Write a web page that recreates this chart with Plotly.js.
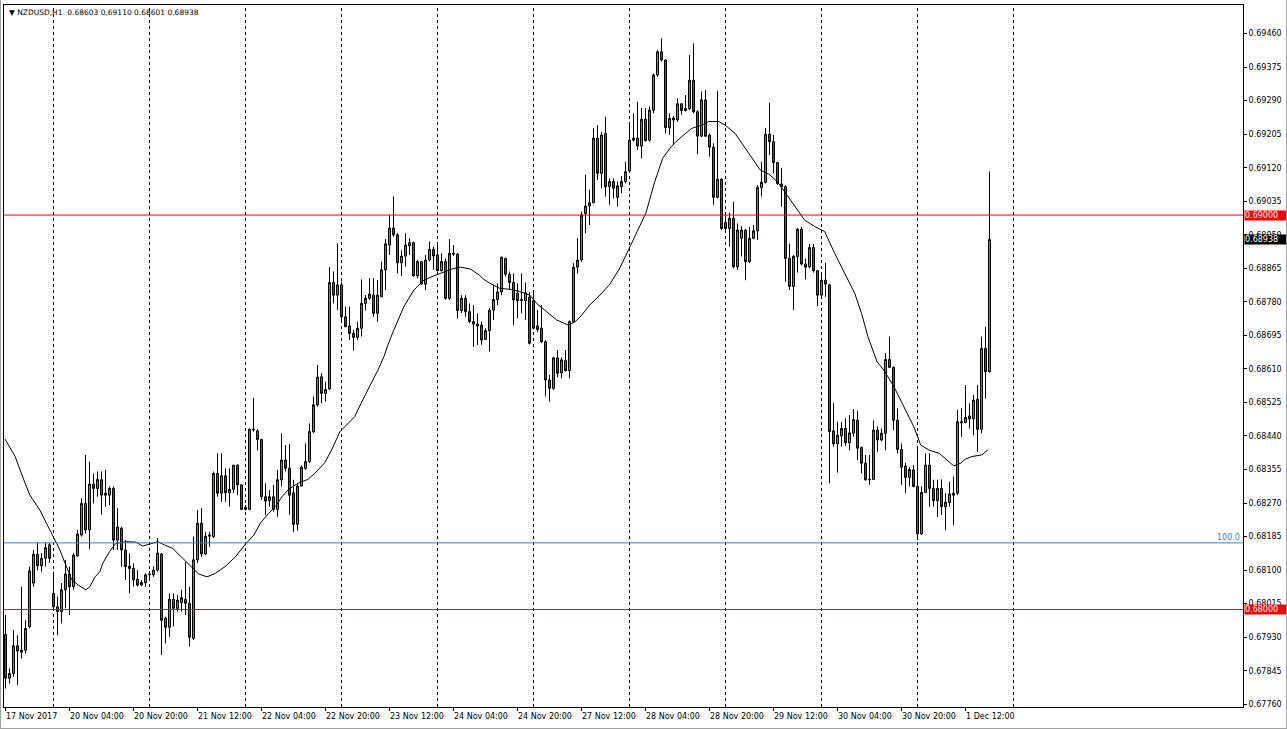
<!DOCTYPE html>
<html><head><meta charset="utf-8">
<script src="https://cdn.plot.ly/plotly-3.0.1.min.js"></script>
<style>html,body{margin:0;padding:0;background:#fff;overflow:hidden}#wrap{position:relative;width:1287px;height:729px}#chart{width:1287px;height:729px}#frame{position:absolute;left:0;top:0;width:1286px;height:728px;border-left:1px solid #a0a0a0;border-right:1px solid #a0a0a0;border-bottom:1px solid #a0a0a0;box-sizing:border-box;width:1287px;height:729px;pointer-events:none}</style>
</head><body><div id="wrap"><div id="chart"></div><div id="frame"></div></div>
<script>
const symbol = 'NZDUSD,H1';
const openPx = [
0.67937,0.67826,0.67838,0.67908,0.67892,0.67897,0.67957,0.68067,0.68140,0.68111,0.68130,0.68164,
0.68041,0.68007,0.67995,0.68050,0.68090,0.68058,0.68136,0.68189,0.68269,0.68202,0.68318,0.68307,
0.68329,0.68295,0.68290,0.68307,0.68176,0.68206,0.68151,0.68110,0.68104,0.68077,0.68062,0.68068,
0.68088,0.68088,0.68100,0.68141,0.67978,0.67955,0.68026,0.68003,0.68018,0.68026,0.68016,0.67927,
0.68126,0.68219,0.68141,0.68186,0.68185,0.68345,0.68295,0.68339,0.68296,0.68305,0.68366,0.68316,
0.68259,0.68254,0.68455,0.68453,0.68431,0.68286,0.68276,0.68286,0.68254,0.68329,0.68379,0.68358,
0.68296,0.68216,0.68313,0.68358,0.68375,0.68451,0.68519,0.68590,0.68548,0.68559,0.68829,0.68797,
0.68823,0.68742,0.68719,0.68700,0.68690,0.68713,0.68776,0.68789,0.68797,0.68751,0.68793,0.68861,
0.68924,0.68967,0.68950,0.68879,0.68896,0.68922,0.68930,0.68846,0.68882,0.68825,0.68886,0.68913,
0.68899,0.68859,0.68882,0.68789,0.68903,0.68901,0.68758,0.68789,0.68755,0.68730,0.68724,0.68721,
0.68685,0.68707,0.68759,0.68786,0.68805,0.68890,0.68850,0.68829,0.68802,0.68786,0.68783,0.68792,
0.68783,0.68719,0.68713,0.68679,0.68582,0.68561,0.68638,0.68600,0.68631,0.68606,0.68730,0.68868,
0.68886,0.69004,0.69023,0.69031,0.69195,0.69106,0.69207,0.69072,0.69085,0.69045,0.69072,0.69085,
0.69112,0.69190,0.69195,0.69175,0.69243,0.69190,0.69266,0.69355,0.69414,0.69393,0.69222,0.69246,
0.69241,0.69282,0.69265,0.69270,0.69342,0.69262,0.69200,0.69292,0.69203,0.69172,0.69045,0.69091,
0.68981,0.68966,0.68992,0.68869,0.68941,0.68962,0.68882,0.68941,0.68960,0.69070,0.69083,0.69205,
0.69186,0.69133,0.69079,0.69072,0.68890,0.68819,0.68895,0.68964,0.68876,0.68869,0.68918,0.68859,
0.68797,0.68835,0.68823,0.68453,0.68420,0.68440,0.68459,0.68423,0.68447,0.68480,0.68411,0.68371,
0.68329,0.68330,0.68455,0.68430,0.68447,0.68634,0.68614,0.68480,0.68406,0.68364,0.68335,0.68354,
0.68312,0.68192,0.68297,0.68366,0.68307,0.68276,0.68307,0.68261,0.68271,0.68290,0.68295,0.68473,
0.68474,0.68483,0.68484,0.68533,0.68457,0.68662,0.68603];
const highPx = [
0.67986,0.67851,0.67948,0.67935,0.68058,0.67973,0.68109,0.68151,0.68170,0.68143,0.68170,0.68170,
0.68096,0.68033,0.68067,0.68126,0.68109,0.68143,0.68202,0.68282,0.68392,0.68375,0.68345,0.68350,
0.68350,0.68354,0.68312,0.68312,0.68257,0.68210,0.68176,0.68143,0.68117,0.68100,0.68075,0.68092,
0.68098,0.68109,0.68181,0.68143,0.67982,0.68041,0.68041,0.68037,0.68050,0.68121,0.68058,0.68185,
0.68252,0.68257,0.68197,0.68197,0.68350,0.68396,0.68396,0.68358,0.68358,0.68366,0.68368,0.68318,
0.68265,0.68459,0.68536,0.68457,0.68433,0.68320,0.68303,0.68316,0.68354,0.68447,0.68417,0.68420,
0.68329,0.68320,0.68366,0.68421,0.68472,0.68540,0.68620,0.68599,0.68578,0.68868,0.68857,0.68928,
0.68831,0.68768,0.68768,0.68709,0.68730,0.68837,0.68797,0.68840,0.68840,0.68835,0.68882,0.68939,
0.69000,0.69047,0.68954,0.68911,0.68954,0.68941,0.68933,0.68886,0.68884,0.68899,0.68933,0.68920,
0.68928,0.68903,0.68890,0.68939,0.68924,0.68903,0.68797,0.68797,0.68776,0.68772,0.68751,0.68730,
0.68713,0.68764,0.68823,0.68827,0.68895,0.68892,0.68857,0.68852,0.68827,0.68852,0.68829,0.68805,
0.68805,0.68759,0.68772,0.68683,0.68595,0.68641,0.68658,0.68639,0.68658,0.68733,0.68878,0.68941,
0.69009,0.69102,0.69064,0.69220,0.69228,0.69211,0.69249,0.69093,0.69093,0.69085,0.69099,0.69135,
0.69228,0.69258,0.69287,0.69271,0.69271,0.69275,0.69359,0.69418,0.69448,0.69395,0.69258,0.69251,
0.69296,0.69284,0.69304,0.69406,0.69435,0.69266,0.69313,0.69317,0.69207,0.69182,0.69315,0.69093,
0.69006,0.69006,0.69034,0.68979,0.68972,0.68964,0.68970,0.68975,0.69076,0.69135,0.69221,0.69285,
0.69203,0.69135,0.69119,0.69076,0.68928,0.68899,0.68967,0.68970,0.68890,0.68927,0.68927,0.68861,
0.68854,0.68879,0.68826,0.68524,0.68476,0.68476,0.68485,0.68493,0.68508,0.68504,0.68413,0.68392,
0.68392,0.68479,0.68464,0.68459,0.68650,0.68692,0.68616,0.68510,0.68421,0.68372,0.68361,0.68366,
0.68409,0.68312,0.68396,0.68396,0.68329,0.68329,0.68330,0.68295,0.68324,0.68337,0.68506,0.68510,
0.68569,0.68523,0.68544,0.68569,0.68692,0.68717,0.69110];
const lowPx = [
0.67800,0.67813,0.67830,0.67809,0.67876,0.67889,0.67952,0.68058,0.68100,0.68096,0.68109,0.68119,
0.68003,0.67935,0.67965,0.68003,0.67986,0.68050,0.68134,0.68185,0.68193,0.68153,0.68269,0.68286,
0.68240,0.68261,0.68265,0.68151,0.68151,0.68109,0.68075,0.68041,0.68058,0.68058,0.68060,0.68058,
0.68080,0.68083,0.68096,0.67885,0.67914,0.67931,0.67957,0.67995,0.67995,0.67986,0.67906,0.67923,
0.68118,0.68134,0.68138,0.68159,0.68181,0.68286,0.68273,0.68273,0.68261,0.68295,0.68290,0.68252,
0.68251,0.68252,0.68451,0.68404,0.68278,0.68240,0.68261,0.68248,0.68235,0.68312,0.68350,0.68240,
0.68196,0.68200,0.68312,0.68354,0.68371,0.68447,0.68514,0.68523,0.68527,0.68557,0.68776,0.68759,
0.68734,0.68716,0.68683,0.68656,0.68683,0.68692,0.68758,0.68785,0.68742,0.68730,0.68793,0.68810,
0.68899,0.68945,0.68852,0.68846,0.68869,0.68899,0.68844,0.68840,0.68823,0.68810,0.68882,0.68861,
0.68857,0.68857,0.68785,0.68785,0.68896,0.68738,0.68752,0.68742,0.68726,0.68666,0.68671,0.68671,
0.68683,0.68654,0.68734,0.68772,0.68797,0.68844,0.68810,0.68721,0.68738,0.68751,0.68734,0.68672,
0.68710,0.68704,0.68675,0.68540,0.68527,0.68557,0.68589,0.68586,0.68603,0.68586,0.68726,0.68852,
0.68881,0.68954,0.68975,0.69030,0.69089,0.69068,0.69047,0.69026,0.69042,0.69021,0.69055,0.69080,
0.69110,0.69186,0.69165,0.69144,0.69186,0.69186,0.69258,0.69351,0.69389,0.69207,0.69203,0.69178,
0.69236,0.69254,0.69262,0.69266,0.69258,0.69155,0.69198,0.69198,0.69148,0.69026,0.69042,0.68962,
0.68962,0.68920,0.68865,0.68861,0.68895,0.68835,0.68878,0.68939,0.68937,0.69047,0.69080,0.69152,
0.69106,0.69076,0.69021,0.68831,0.68810,0.68759,0.68854,0.68873,0.68837,0.68865,0.68854,0.68769,
0.68793,0.68793,0.68320,0.68413,0.68347,0.68413,0.68415,0.68404,0.68438,0.68379,0.68345,0.68327,
0.68316,0.68329,0.68400,0.68426,0.68404,0.68612,0.68455,0.68396,0.68316,0.68295,0.68312,0.68310,
0.68176,0.68189,0.68295,0.68261,0.68261,0.68235,0.68240,0.68202,0.68261,0.68214,0.68290,0.68438,
0.68472,0.68459,0.68442,0.68400,0.68447,0.68535,0.68601];
const closePx = [
0.67826,0.67838,0.67908,0.67895,0.67897,0.67952,0.68098,0.68140,0.68111,0.68130,0.68157,0.68130,
0.68007,0.67995,0.68050,0.68090,0.68058,0.68138,0.68191,0.68269,0.68202,0.68318,0.68307,0.68330,
0.68290,0.68290,0.68307,0.68176,0.68209,0.68151,0.68109,0.68104,0.68075,0.68062,0.68069,0.68088,
0.68090,0.68100,0.68143,0.67973,0.67955,0.68026,0.68003,0.68024,0.68030,0.68016,0.67930,0.68126,
0.68219,0.68141,0.68186,0.68189,0.68345,0.68295,0.68339,0.68296,0.68305,0.68366,0.68316,0.68254,
0.68254,0.68457,0.68457,0.68431,0.68286,0.68275,0.68286,0.68254,0.68329,0.68379,0.68358,0.68290,
0.68216,0.68313,0.68361,0.68375,0.68451,0.68519,0.68589,0.68548,0.68558,0.68829,0.68797,0.68823,
0.68742,0.68717,0.68700,0.68690,0.68713,0.68776,0.68789,0.68800,0.68751,0.68797,0.68861,0.68927,
0.68967,0.68950,0.68879,0.68896,0.68924,0.68930,0.68846,0.68882,0.68825,0.68886,0.68913,0.68896,
0.68859,0.68882,0.68789,0.68903,0.68901,0.68758,0.68789,0.68755,0.68730,0.68724,0.68719,0.68683,
0.68707,0.68759,0.68786,0.68805,0.68893,0.68850,0.68829,0.68785,0.68783,0.68784,0.68803,0.68675,
0.68713,0.68710,0.68679,0.68582,0.68561,0.68638,0.68599,0.68633,0.68606,0.68730,0.68868,0.68886,
0.69000,0.69023,0.69031,0.69195,0.69106,0.69203,0.69072,0.69085,0.69068,0.69074,0.69085,0.69110,
0.69190,0.69195,0.69175,0.69243,0.69189,0.69266,0.69355,0.69414,0.69393,0.69222,0.69245,0.69241,
0.69282,0.69265,0.69270,0.69342,0.69262,0.69200,0.69292,0.69200,0.69172,0.69045,0.69091,0.68966,
0.68966,0.68992,0.68869,0.68962,0.68962,0.68882,0.68941,0.68960,0.69070,0.69083,0.69205,0.69186,
0.69133,0.69080,0.69072,0.68890,0.68819,0.68895,0.68964,0.68876,0.68868,0.68918,0.68859,0.68797,
0.68835,0.68825,0.68451,0.68420,0.68442,0.68459,0.68423,0.68448,0.68482,0.68409,0.68371,0.68329,
0.68330,0.68455,0.68430,0.68447,0.68634,0.68614,0.68480,0.68406,0.68361,0.68335,0.68355,0.68312,
0.68192,0.68297,0.68366,0.68307,0.68276,0.68307,0.68261,0.68272,0.68293,0.68295,0.68476,0.68476,
0.68487,0.68491,0.68531,0.68457,0.68662,0.68603,0.68938];

// moving average line at these bar positions
const maIdx = [-0.1,2.4,4.9,6.1,8.6,11.1,12.4,13.6,14.9,16.6,18.2,20.1,21.1,22.4,23.6,24.3,26.0,27.6,30.1,32.6,
34.3,36.0,38.1,39.7,41.8,44.3,46.0,47.6,48.3,50.4,52.5,54.9,57.5,60.0,62.1,63.7,65.8,67.5,69.1,70.8,
73.1,75.6,77.3,79.8,81.5,83.6,85.2,87.3,88.9,91.1,93.1,94.6,95.6,97.1,99.6,102.1,104.6,107.1,109.6,112.1,
113.8,116.3,118.4,119.6,121.1,123.6,126.1,128.6,131.1,132.8,135.3,137.8,140.7,142.4,143.6,146.1,148.6,151.1,153.6,156.0,
158.1,160.1,162.2,164.3,166.4,167.6,169.1,171.6,174.1,175.8,178.3,179.9,182.4,184.9,187.1,188.7,190.8,192.3,193.6,195.6,
198.1,199.8,202.3,204.8,207.3,209.8,212.3,214.0,215.6,217.9,219.6,222.1,224.6,227.1,228.8,230.9,233.4,235.9,237.1,238.8,
239.9,241.6,244.1,245.7];
const maVal = [0.68432,0.68388,0.68320,0.68290,0.68252,0.68202,0.68176,0.68151,0.68117,0.68075,0.68062,0.68050,0.68058,0.68083,0.68096,0.68117,0.68147,0.68168,0.68172,0.68171,
0.68161,0.68166,0.68172,0.68164,0.68155,0.68130,0.68113,0.68096,0.68090,0.68083,0.68092,0.68109,0.68134,0.68166,0.68189,0.68219,0.68244,0.68261,0.68286,0.68305,
0.68320,0.68330,0.68345,0.68372,0.68404,0.68451,0.68468,0.68489,0.68523,0.68565,0.68607,0.68641,0.68671,0.68709,0.68768,0.68810,0.68835,0.68846,0.68856,0.68865,
0.68868,0.68863,0.68848,0.68837,0.68827,0.68814,0.68812,0.68806,0.68797,0.68776,0.68755,0.68734,0.68721,0.68730,0.68741,0.68772,0.68797,0.68825,0.68866,0.68916,
0.68962,0.69005,0.69081,0.69144,0.69173,0.69186,0.69199,0.69220,0.69228,0.69237,0.69237,0.69228,0.69207,0.69169,0.69135,0.69114,0.69104,0.69091,0.69076,0.69047,
0.69013,0.68987,0.68971,0.68958,0.68903,0.68852,0.68802,0.68751,0.68692,0.68628,0.68607,0.68565,0.68514,0.68463,0.68417,0.68404,0.68396,0.68375,0.68364,0.68371,
0.68381,0.68388,0.68392,0.68406];

const daySeparators = [12,36,60,84,108,132,156,180,204,228,252];
const timeTickIdx = [0,16,32,48,64,80,96,112,128,144,160,176,192,208,224,240];
const timeTickText = ['17 Nov 2017','20 Nov 04:00','20 Nov 20:00','21 Nov 12:00','22 Nov 04:00','22 Nov 20:00',
  '23 Nov 12:00','24 Nov 04:00','24 Nov 20:00','27 Nov 12:00','28 Nov 04:00','28 Nov 20:00','29 Nov 12:00',
  '30 Nov 04:00','30 Nov 20:00','1 Dec 12:00'];
const priceTicks = [0.67760,0.67845,0.67930,0.68015,0.68100,0.68185,0.68270,0.68355,0.68440,0.68525,0.68610,
  0.68695,0.68780,0.68865,0.68950,0.69035,0.69120,0.69205,0.69290,0.69375,0.69460];
const redLevels = [0.69000, 0.68000];
const fibLevel = 0.68169;
const fibLabel = '100.0';

const barIdx = openPx.map((_, i) => i);
const last = openPx.length - 1;
const fontFam = 'DejaVu Sans, Verdana, sans-serif';

const traces = [
  {type:'candlestick', x:barIdx, open:openPx, high:highPx, low:lowPx, close:closePx,
   increasing:{line:{color:'#000000', width:1}, fillcolor:'#1ec81e'},
   decreasing:{line:{color:'#000000', width:1}, fillcolor:'#e01e1e'},
   whiskerwidth:0, hoverinfo:'skip'},
  {type:'scatter', mode:'lines', x:maIdx, y:maVal, line:{color:'#000000', width:1}, hoverinfo:'skip'}
];

const shapes = [];
daySeparators.forEach(d => shapes.push({type:'line', xref:'x', yref:'paper', x0:d, x1:d, y0:0, y1:1,
  line:{color:'#000000', width:1, dash:'3px,3px'}, layer:'below'}));
redLevels.forEach(v => shapes.push({type:'line', xref:'paper', yref:'y', x0:0, x1:1, y0:v, y1:v,
  line:{color:'#ff0000', width:1}, layer:'above'}));
shapes.push({type:'line', xref:'paper', yref:'y', x0:0, x1:1, y0:fibLevel, y1:fibLevel,
  line:{color:'#4682b4', width:1}, layer:'above'});

const annotations = [];
annotations.push({xref:'paper', yref:'paper', x:0, y:1, xanchor:'left', yanchor:'top', xshift:3, yshift:-1,
  showarrow:false, align:'left',
  text:'\u25BC ' + symbol + '  ' + [openPx[last], highPx[last], lowPx[last], closePx[last]].map(v => v.toFixed(5)).join(' '),
  font:{family:fontFam, size:7.5, color:'#000'}});
timeTickIdx.forEach((t, k) => annotations.push({xref:'x', yref:'paper', x:t, y:0, xanchor:'left', yanchor:'top',
  xshift:-2, yshift:-3, showarrow:false, text:timeTickText[k], font:{family:fontFam, size:8, color:'#000'}}));
function priceBox(v, bg) {
  return {xref:'paper', yref:'y', x:1, y:v, xanchor:'left', yanchor:'middle', xshift:1, showarrow:false,
    text:v.toFixed(5), bgcolor:bg, width:41, align:'left', borderpad:0,
    font:{family:fontFam, size:8, color:'#ffffff'}};
}
redLevels.forEach(v => annotations.push(priceBox(v, '#ff0000')));
annotations.push(priceBox(closePx[last], '#000000'));
annotations.push({xref:'paper', yref:'y', x:1, y:fibLevel, xanchor:'right', yanchor:'bottom', xshift:-1, yshift:-1,
  showarrow:false, text:fibLabel, font:{family:fontFam, size:8, color:'#4682b4'}});

const layout = {
  width:1287, height:729,
  margin:{l:4, r:44, t:5, b:22, pad:0},
  paper_bgcolor:'#ffffff', plot_bgcolor:'#ffffff',
  showlegend:false,
  xaxis:{range:[-0.375, 309.375], tickvals:timeTickIdx, showticklabels:false, ticks:'outside', ticklen:3,
    tickcolor:'#000', showgrid:false, zeroline:false, showline:true, mirror:true, linecolor:'#000', linewidth:1,
    rangeslider:{visible:false}, fixedrange:true},
  yaxis:{side:'right', range:[0.677530, 0.695325], tickvals:priceTicks, tickformat:'.5f', ticks:'outside',
    ticklen:3, tickcolor:'#000', tickfont:{family:fontFam, size:8, color:'#000'}, showgrid:false, zeroline:false,
    showline:true, mirror:true, linecolor:'#000', linewidth:1, fixedrange:true},
  shapes:shapes,
  annotations:annotations
};

Plotly.newPlot('chart', traces, layout, {staticPlot:true, displayModeBar:false});
</script>
</body></html>
